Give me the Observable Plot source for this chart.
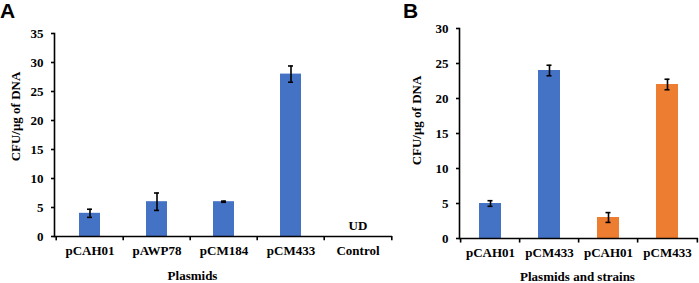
<!DOCTYPE html>
<html>
<head>
<meta charset="utf-8">
<script src="https://cdn.jsdelivr.net/npm/d3@7"></script>
<script src="https://cdn.jsdelivr.net/npm/@observablehq/plot@0.6"></script>
<style>
  html, body { margin: 0; padding: 0; background: white; }
  #wrap { position: relative; width: 699px; height: 283px; overflow: hidden; background: white; }
  #wrap > svg, #wrap > figure { position: absolute; top: 0; margin: 0; z-index: 1; }
  .panel { position: absolute; top: 0; z-index: 2; line-height: 21px; font-family: "Liberation Sans", Arial, sans-serif; font-weight: bold; font-size: 21px; }
</style>
</head>
<body>
<div id="wrap">
  <div class="panel" style="left:0px">A</div>
  <div class="panel" style="left:403px">B</div>
</div>
<script>
// Panel A data
const catsA = ["pCAH01", "pAWP78", "pCM184", "pCM433", "Control"];
const valsA = [4, 6, 6, 28, null];
const errA = [0.7, 1.5, 0.1, 1.4, null];
const yTicksA = [0, 5, 10, 15, 20, 25, 30, 35];

// Panel B data
const keysB = ["b1", "b2", "b3", "b4"];
const labelsB = ["pCAH01", "pCM433", "pCAH01", "pCM433"];
const groupB = ["g1", "g1", "g2", "g2"];
const valsB = [5, 24, 3, 22];
const errB = [0.4, 0.75, 0.7, 0.75];
const yTicksB = [0, 5, 10, 15, 20, 25, 30];

const blue = "#4472C4", orange = "#ED7D31";
const font = {fontFamily: "'Liberation Serif', 'Times New Roman', serif", fontWeight: "bold", fontSize: "13px", background: "white", color: "black", overflow: "visible"};

const dataA = catsA.map((c, i) => ({cat: c, v: valsA[i], e: errA[i]}));
const errDataA = dataA.filter(d => d.e != null);
const dataB = keysB.map((k, i) => ({cat: k, v: valsB[i], e: errB[i], g: groupB[i]}));

const wrap = document.getElementById("wrap");

const stepA = 338 / catsA.length;
const plotA = Plot.plot({
  width: 400, height: 283,
  marginLeft: 54, marginRight: 8, marginTop: 33, marginBottom: 47,
  style: font,
  x: {domain: catsA, paddingInner: 0.69, paddingOuter: 0.345},
  y: {domain: [0, 35]},
  marks: [
    Plot.barY(dataA.filter(d => d.v != null), {x: "cat", y: "v", fill: blue}),
    Plot.ruleX(errDataA, {x: "cat", y1: d => d.v - d.e, y2: d => d.v + d.e, stroke: "black", strokeWidth: 1.6}),
    Plot.tickY(errDataA, {x: "cat", y: d => d.v + d.e, stroke: "black", strokeWidth: 1.6, insetLeft: 8, insetRight: 8}),
    Plot.tickY(errDataA, {x: "cat", y: d => d.v - d.e, stroke: "black", strokeWidth: 1.6, insetLeft: 8, insetRight: 8}),
    Plot.ruleY([0], {stroke: "black", strokeWidth: 1.6}),
    Plot.frame({anchor: "left", stroke: "black", strokeWidth: 1.6}),
    Plot.axisY({ticks: yTicksA, tickSize: 3, tickPadding: 8, label: null, strokeWidth: 1.6, fontSize: 13}),
    Plot.axisX({tickSize: 0, tickPadding: 9, label: null, fontSize: 13}),
    Plot.ruleX(catsA, {x: d => d, y1: 0, y2: -0.75, dx: -stepA / 2, stroke: "black", strokeWidth: 1.6}),
    Plot.ruleX([catsA[catsA.length - 1]], {x: d => d, y1: 0, y2: -0.75, dx: stepA / 2, stroke: "black", strokeWidth: 1.6}),
    Plot.text(["UD"], {x: () => "Control", y: () => 0, text: d => d, lineAnchor: "bottom", dy: -7, fontSize: 13}),
    Plot.text(["CFU/μg of DNA"], {frameAnchor: "left", text: d => d, rotate: -90, textAnchor: "middle", lineAnchor: "middle", fontSize: 13, dx: -39, dy: -18.5}),
    Plot.text(["Plasmids"], {frameAnchor: "bottom", text: d => d, textAnchor: "middle", fontSize: 13, dx: -31, dy: 43})
  ]
});
plotA.style.left = "0px";
wrap.appendChild(plotA);

const stepB = 239 / keysB.length;
const plotB = Plot.plot({
  width: 299, height: 283,
  marginLeft: 59, marginRight: 1, marginTop: 28, marginBottom: 45,
  style: font,
  x: {domain: keysB, paddingInner: 0.63, paddingOuter: 0.315},
  y: {domain: [0, 30]},
  color: {domain: ["g1", "g2"], range: [blue, orange]},
  marks: [
    Plot.barY(dataB, {x: "cat", y: "v", fill: "g"}),
    Plot.ruleX(dataB, {x: "cat", y1: d => d.v - d.e, y2: d => d.v + d.e, stroke: "black", strokeWidth: 1.6}),
    Plot.tickY(dataB, {x: "cat", y: d => d.v + d.e, stroke: "black", strokeWidth: 1.6, insetLeft: 8.5, insetRight: 8.5}),
    Plot.tickY(dataB, {x: "cat", y: d => d.v - d.e, stroke: "black", strokeWidth: 1.6, insetLeft: 8.5, insetRight: 8.5}),
    Plot.ruleY([0], {stroke: "black", strokeWidth: 1.6}),
    Plot.frame({anchor: "left", stroke: "black", strokeWidth: 1.6}),
    Plot.axisY({ticks: yTicksB, tickSize: 3, tickPadding: 8, label: null, strokeWidth: 1.6, fontSize: 13}),
    Plot.axisX({tickSize: 0, tickPadding: 9, label: null, fontSize: 13, tickFormat: k => labelsB[keysB.indexOf(k)]}),
    Plot.ruleX(keysB, {x: d => d, y1: 0, y2: -0.65, dx: -stepB / 2, stroke: "black", strokeWidth: 1.6}),
    Plot.ruleX([keysB[keysB.length - 1]], {x: d => d, y1: 0, y2: -0.65, dx: stepB / 2, stroke: "black", strokeWidth: 1.6}),
    Plot.text(["CFU/μg of DNA"], {frameAnchor: "left", text: d => d, rotate: -90, textAnchor: "middle", lineAnchor: "middle", fontSize: 13, dx: -43, dy: -13}),
    Plot.text(["Plasmids and strains"], {frameAnchor: "bottom", text: d => d, textAnchor: "middle", fontSize: 13, dx: -1.5, dy: 42})
  ]
});
plotB.style.left = "400px";
wrap.appendChild(plotB);
</script>
</body>
</html>
